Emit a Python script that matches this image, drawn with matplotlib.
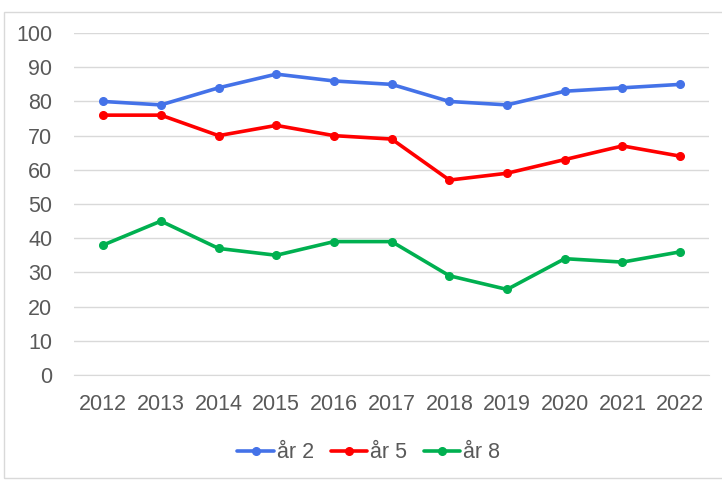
import matplotlib
matplotlib.use("Agg")
import matplotlib.pyplot as plt
from matplotlib.patches import Rectangle

years = ["2012", "2013", "2014", "2015", "2016", "2017", "2018", "2019", "2020", "2021", "2022"]
ar2 = [80, 79, 84, 88, 86, 85, 80, 79, 83, 84, 85]
ar5 = [76, 76, 70, 73, 70, 69, 57, 59, 63, 67, 64]
ar8 = [38, 45, 37, 35, 39, 39, 29, 25, 34, 33, 36]
series_names = ["år 2", "år 5", "år 8"]
colors = ["#4472E8", "#FF0000", "#00B050"]

plt.rcParams['font.family'] = ['Liberation Sans', 'DejaVu Sans']
fig = plt.figure(figsize=(7.22, 4.80), dpi=100)
ax = fig.add_axes([0.103, 0.219, 0.879, 0.712])
x = list(range(len(years)))
for vals, name, c in zip([ar2, ar5, ar8], series_names, colors):
    ax.plot(x, vals, color=c, lw=2.6, marker='o', ms=5.5, label=name, solid_capstyle='round')

ax.set_xlim(-0.5, len(years) - 0.5)
ax.set_ylim(0, 100)
ax.set_yticks(range(0, 101, 10))
ax.set_xticks(x)
ax.set_xticklabels(years)
ax.grid(axis='y', color='#D9D9D9', lw=1)
ax.set_axisbelow(True)
for s in ['top', 'right', 'left']:
    ax.spines[s].set_visible(False)
ax.spines['bottom'].set_color('#D9D9D9')
ax.tick_params(axis='both', length=0, labelsize=15.5, colors='#595959')
ax.tick_params(axis='y', pad=16)
ax.tick_params(axis='x', pad=14)

leg = fig.legend(loc='center', bbox_to_anchor=(0.511, 0.057), ncol=3, frameon=False,
                 fontsize=15.5, handlelength=1.7, handletextpad=0.15, columnspacing=0.75)
for t in leg.get_texts():
    t.set_color('#595959')

fig.patches.append(Rectangle((0.005, 0.005), 1.2, 0.97, transform=fig.transFigure,
                             fill=False, edgecolor='#D9D9D9', lw=1))
fig.savefig("out.png", dpi=100)
